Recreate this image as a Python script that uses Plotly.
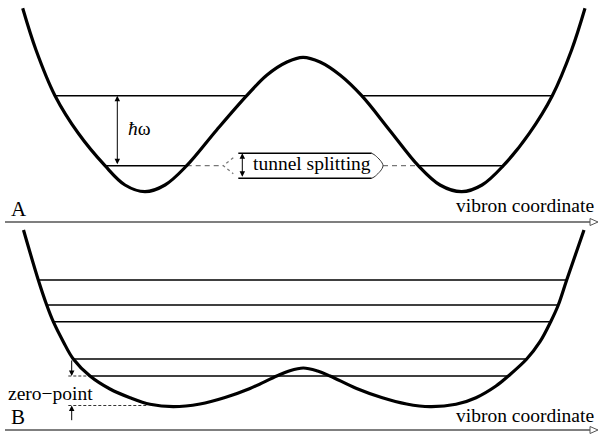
import plotly.graph_objects as go

# ---------------- data (x: vibron coordinate, E: energy above the axis) -------------
curveA_x = [22.7, 36.0, 55.0, 78.3, 105.0, 125.0, 145.0, 165.0, 186.7, 216.7, 246.7,
            267.0, 287.0, 303.0, 320.0, 340.0, 361.7, 390.0, 418.3, 440.0, 461.7,
            482.0, 503.3, 529.3, 552.3, 571.6, 585.0]
curveA_E = [213.7, 172.0, 126.3, 88.7, 56.3, 37.0, 30.3, 37.0, 56.3, 92.0, 126.3,
            147.0, 160.0, 164.7, 160.0, 147.0, 126.3, 91.3, 56.3, 37.0, 30.3,
            37.0, 56.3, 88.7, 126.3, 172.0, 213.7]

curveB_x = [23.5, 38.3, 46.7, 53.3, 63.3, 73.3, 90.0, 110.0, 130.0, 150.0, 173.3,
            200.0, 225.0, 250.0, 276.7, 289.0, 303.3, 317.6, 330.0, 356.6, 381.6, 406.6,
            430.0, 456.0, 476.0, 496.0, 508.3, 526.7, 540.0, 550.7, 558.3, 566.7, 584.0]
curveB_E = [200.0, 150.0, 125.0, 108.3, 88.3, 71.0, 54.0, 41.0, 32.3, 25.7, 23.3,
            26.0, 32.5, 41.5, 54.0, 59.0, 62.0, 59.0, 54.0, 41.5, 32.5, 26.0,
            23.3, 25.7, 32.3, 44.0, 54.0, 71.0, 88.3, 108.3, 125.0, 150.0, 200.0]

levelsA_start = [55.0, 361.7, 105.0, 418.3]
levelsA_end = [246.7, 552.3, 186.7, 503.3]
levelsA_E = [126.3, 126.3, 56.3, 56.3]

split_upper_E = 68.7
split_lower_E = 43.7
split_box_x = [238.3, 371.7]
split_dash_left = [186.7, 223.3]
split_dash_right = [383.0, 418.3]

levelsB_start = [38.3, 46.7, 53.3, 73.3, 90.0]
levelsB_end = [566.7, 558.3, 550.7, 526.7, 508.3]
levelsB_E = [150.0, 125.0, 108.3, 71.0, 54.0]

zero_point_E = 24.5
zero_dash_x = [68.3, 146.7]
zp_arrow_x = 71.7
hbar_arrow_x = 117.3
split_arrow_x = 242.3

axis_x = [5.0, 590.0]
axis_head = [590.0, 598.0]

SERIF = "Liberation Serif, Times New Roman, serif"
FS = 19.5

fig = go.Figure()


def seg_trace(xs0, xs1, es, xa, ya, color="black", width=1.6, dash="solid"):
    X, Y = [], []
    for a, b, e in zip(xs0, xs1, es):
        X += [a, b, None]
        Y += [e, e, None]
    fig.add_trace(go.Scatter(x=X, y=Y, mode="lines", xaxis=xa, yaxis=ya,
                             line=dict(color=color, width=width, dash=dash),
                             hoverinfo="skip", showlegend=False, cliponaxis=False))


# ---------------- panel A ----------------
seg_trace(levelsA_start, levelsA_end, levelsA_E, "x", "y")
seg_trace([split_dash_left[0], split_dash_right[0]], [split_dash_left[1], split_dash_right[1]],
          [levelsA_E[2], levelsA_E[2]], "x", "y", color="#777", width=1.3, dash="5px,4px")
# tunnel splitting box lines
seg_trace([split_box_x[0], split_box_x[0]], [split_box_x[1], split_box_x[1]],
          [split_upper_E, split_lower_E], "x", "y", width=1.5)
# left dashed chevron
mid = levelsA_E[2]
fig.add_trace(go.Scatter(x=[split_dash_left[1] + 10, split_dash_left[1], split_dash_left[1] + 10],
                         y=[mid + 8, mid, mid - 8], mode="lines", xaxis="x", yaxis="y",
                         line=dict(color="#777", width=1.2, dash="3px,3px"),
                         hoverinfo="skip", showlegend=False))
# right solid chevron
fig.add_trace(go.Scatter(x=[split_box_x[1], split_box_x[1] + 4, split_dash_right[0],
                            split_box_x[1] + 4, split_box_x[1]],
                         y=[split_upper_E, split_upper_E - 2.5, mid, split_lower_E + 2.5, split_lower_E],
                         mode="lines", xaxis="x", yaxis="y",
                         line=dict(color="#333", width=1.0, shape="spline"),
                         hoverinfo="skip", showlegend=False))
fig.add_trace(go.Scatter(x=curveA_x, y=curveA_E, mode="lines", xaxis="x", yaxis="y",
                         line=dict(color="black", width=3.2, shape="spline", smoothing=1.0),
                         hoverinfo="skip", showlegend=False, cliponaxis=False))

# ---------------- panel B ----------------
seg_trace(levelsB_start, levelsB_end, levelsB_E, "x2", "y2")
seg_trace([zero_dash_x[0], zero_dash_x[0]], [levelsB_start[4], zero_dash_x[1]],
          [levelsB_E[4], zero_point_E], "x2", "y2", color="#333", width=1.0, dash="3px,2px")
fig.add_trace(go.Scatter(x=curveB_x, y=curveB_E, mode="lines", xaxis="x2", yaxis="y2",
                         line=dict(color="black", width=3.2, shape="spline", smoothing=1.0),
                         hoverinfo="skip", showlegend=False, cliponaxis=False))

# ---------------- coordinate axes with open arrowheads ----------------
for xa, ya in (("x", "y"), ("x2", "y2")):
    fig.add_trace(go.Scatter(x=axis_x, y=[0, 0], mode="lines", xaxis=xa, yaxis=ya,
                             line=dict(color="#555", width=1.3), hoverinfo="skip",
                             showlegend=False, cliponaxis=False))
    fig.add_trace(go.Scatter(x=[axis_head[0], axis_head[1], axis_head[0], axis_head[0]],
                             y=[3.5, 0, -3.5, 3.5], mode="lines", fill="toself",
                             fillcolor="white", xaxis=xa, yaxis=ya,
                             line=dict(color="#555", width=1.0), hoverinfo="skip",
                             showlegend=False, cliponaxis=False))

annotations = []


def arrow(x, y_tip, y_tail, xr, yr, both=False):
    annotations.append(dict(x=x, y=y_tip, ax=x, ay=y_tail, xref=xr, yref=yr, axref=xr, ayref=yr,
                            text="", showarrow=True, arrowhead=2, arrowsize=1.1, arrowwidth=1,
                            arrowcolor="black", arrowside="end+start" if both else "end",
                            standoff=0, startstandoff=0))


arrow(hbar_arrow_x, levelsA_E[0], levelsA_E[2], "x", "y", both=True)
arrow(split_arrow_x, split_upper_E, split_lower_E, "x", "y", both=True)
arrow(zp_arrow_x, levelsB_E[4], levelsB_E[3], "x2", "y2")
arrow(zp_arrow_x, zero_point_E, 8.3, "x2", "y2")


def label(text, x, y, xr, yr, xanchor="left", size=FS):
    annotations.append(dict(text=text, x=x, y=y, xref=xr, yref=yr, showarrow=False,
                            xanchor=xanchor, yanchor="middle",
                            font=dict(family=SERIF, size=size, color="black")))


label("<i>ħ</i>ω", 126, 94, "x", "y")
label("tunnel splitting", 311.7, 58.5, "x", "y", xanchor="center")
label("A", 9, 13, "x", "y", size=21)
label("vibron coordinate", 596, 17, "x", "y", xanchor="right")
label("zero−point", 5.5, 36.7, "x2", "y2")
label("B", 9, 13.3, "x2", "y2", size=21)
label("vibron coordinate", 596, 15, "x2", "y2", xanchor="right")

fig.update_layout(
    width=600, height=434, margin=dict(l=0, r=0, t=0, b=0),
    paper_bgcolor="white", plot_bgcolor="white",
    xaxis=dict(range=[0, 600], domain=[0, 1], anchor="y", visible=False),
    yaxis=dict(range=[-4, 222], domain=[208 / 434, 1], anchor="x", visible=False),
    xaxis2=dict(range=[0, 600], domain=[0, 1], anchor="y2", visible=False),
    yaxis2=dict(range=[-4, 204], domain=[0, 208 / 434], anchor="x2", visible=False),
    annotations=annotations,
    showlegend=False,
)

fig.write_html("out.html", config={"displayModeBar": False},
               post_script="document.body.style.margin='0';")
